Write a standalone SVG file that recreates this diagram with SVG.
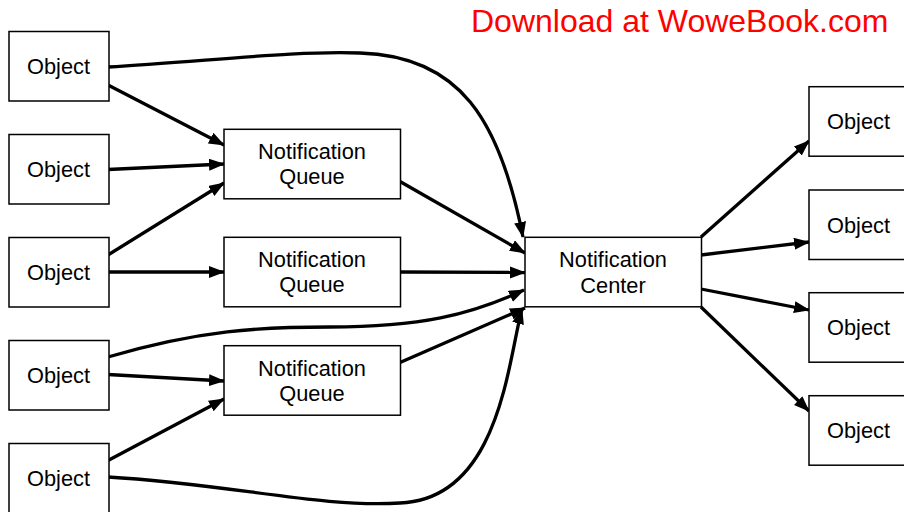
<svg xmlns="http://www.w3.org/2000/svg" width="904" height="512" viewBox="0 0 904 512">
<style>
  .box { fill: #ffffff; stroke: #000000; stroke-width: 1.5; }
  .lbl { font-family: "Liberation Sans", Arial, Helvetica, sans-serif; font-size: 21.8px; fill: #000000; text-anchor: middle; }
  .wm { font-family: "Liberation Sans", Arial, Helvetica, sans-serif; font-size: 32px; fill: #ff0000; }
  .conn { fill: none; stroke: #000000; stroke-width: 3.3; marker-end: url(#arr); }
</style>
<defs>
  <marker id="arr" markerUnits="userSpaceOnUse" markerWidth="17" markerHeight="13" refX="15" refY="6" orient="auto">
    <path d="M0,0 L16,6 L0,12 z" fill="#000000"/>
  </marker>
</defs>
<rect x="0" y="0" width="904" height="512" fill="#ffffff"/>
<text class="wm" x="471" y="31.5">Download at WoweBook.com</text>

<g id="connectors">
  <path class="conn" d="M108,67 C 200,62 300,50 360,53 C 460,56 500,120 523,237"/>
  <path class="conn" d="M108,85 L224,145"/>
  <path class="conn" d="M108,169.5 L224,164"/>
  <path class="conn" d="M108,255 L224,183"/>
  <path class="conn" d="M108,272 L224,272"/>
  <path class="conn" d="M108,357 C 200,330 260,327 330,327 C 420,327 470,315 524,290"/>
  <path class="conn" d="M108,374.5 L224,381"/>
  <path class="conn" d="M108,460.5 L224,399"/>
  <path class="conn" d="M108,477 C 230,484 320,508 400,503 C 500,499 508,360 522,309"/>
  <path class="conn" d="M400,181.5 L525,253"/>
  <path class="conn" d="M400,272 L525,272.5"/>
  <path class="conn" d="M400,362.5 L525,308"/>
  <path class="conn" d="M701,237 L809,141"/>
  <path class="conn" d="M701,255 L809,242"/>
  <path class="conn" d="M701,289 L809,310"/>
  <path class="conn" d="M701,307 L809,411"/>
</g>

<g id="obj-l1"><rect class="box" x="9" y="31.5" width="100" height="69.5"/><text class="lbl" x="58.5" y="74">Object</text></g>
<g id="obj-l2"><rect class="box" x="9" y="134.5" width="100" height="69.5"/><text class="lbl" x="58.5" y="177">Object</text></g>
<g id="obj-l3"><rect class="box" x="9" y="237.5" width="100" height="69.5"/><text class="lbl" x="58.5" y="280">Object</text></g>
<g id="obj-l4"><rect class="box" x="9" y="340.5" width="100" height="69.5"/><text class="lbl" x="58.5" y="383">Object</text></g>
<g id="obj-l5"><rect class="box" x="9" y="443.5" width="100" height="69.5"/><text class="lbl" x="58.5" y="486">Object</text></g>

<g id="queue1"><rect class="box" x="224" y="129.3" width="176.5" height="69.5"/><text class="lbl" x="312" y="159.3">Notification</text><text class="lbl" x="312" y="184.3">Queue</text></g>
<g id="queue2"><rect class="box" x="224" y="237.3" width="176.5" height="69.5"/><text class="lbl" x="312" y="267.3">Notification</text><text class="lbl" x="312" y="292.3">Queue</text></g>
<g id="queue3"><rect class="box" x="224" y="345.7" width="176.5" height="69.5"/><text class="lbl" x="312" y="375.7">Notification</text><text class="lbl" x="312" y="400.7">Queue</text></g>

<g id="center"><rect class="box" x="525" y="237.3" width="176.5" height="69.5"/><text class="lbl" x="613" y="267">Notification</text><text class="lbl" x="613" y="292.5">Center</text></g>

<g id="obj-r1"><rect class="box" x="809" y="86.7" width="100" height="69.5"/><text class="lbl" x="858.5" y="129.2">Object</text></g>
<g id="obj-r2"><rect class="box" x="809" y="190" width="100" height="69.5"/><text class="lbl" x="858.5" y="232.5">Object</text></g>
<g id="obj-r3"><rect class="box" x="809" y="292.7" width="100" height="69.5"/><text class="lbl" x="858.5" y="335.2">Object</text></g>
<g id="obj-r4"><rect class="box" x="809" y="395.7" width="100" height="69.5"/><text class="lbl" x="858.5" y="438.2">Object</text></g>
</svg>
